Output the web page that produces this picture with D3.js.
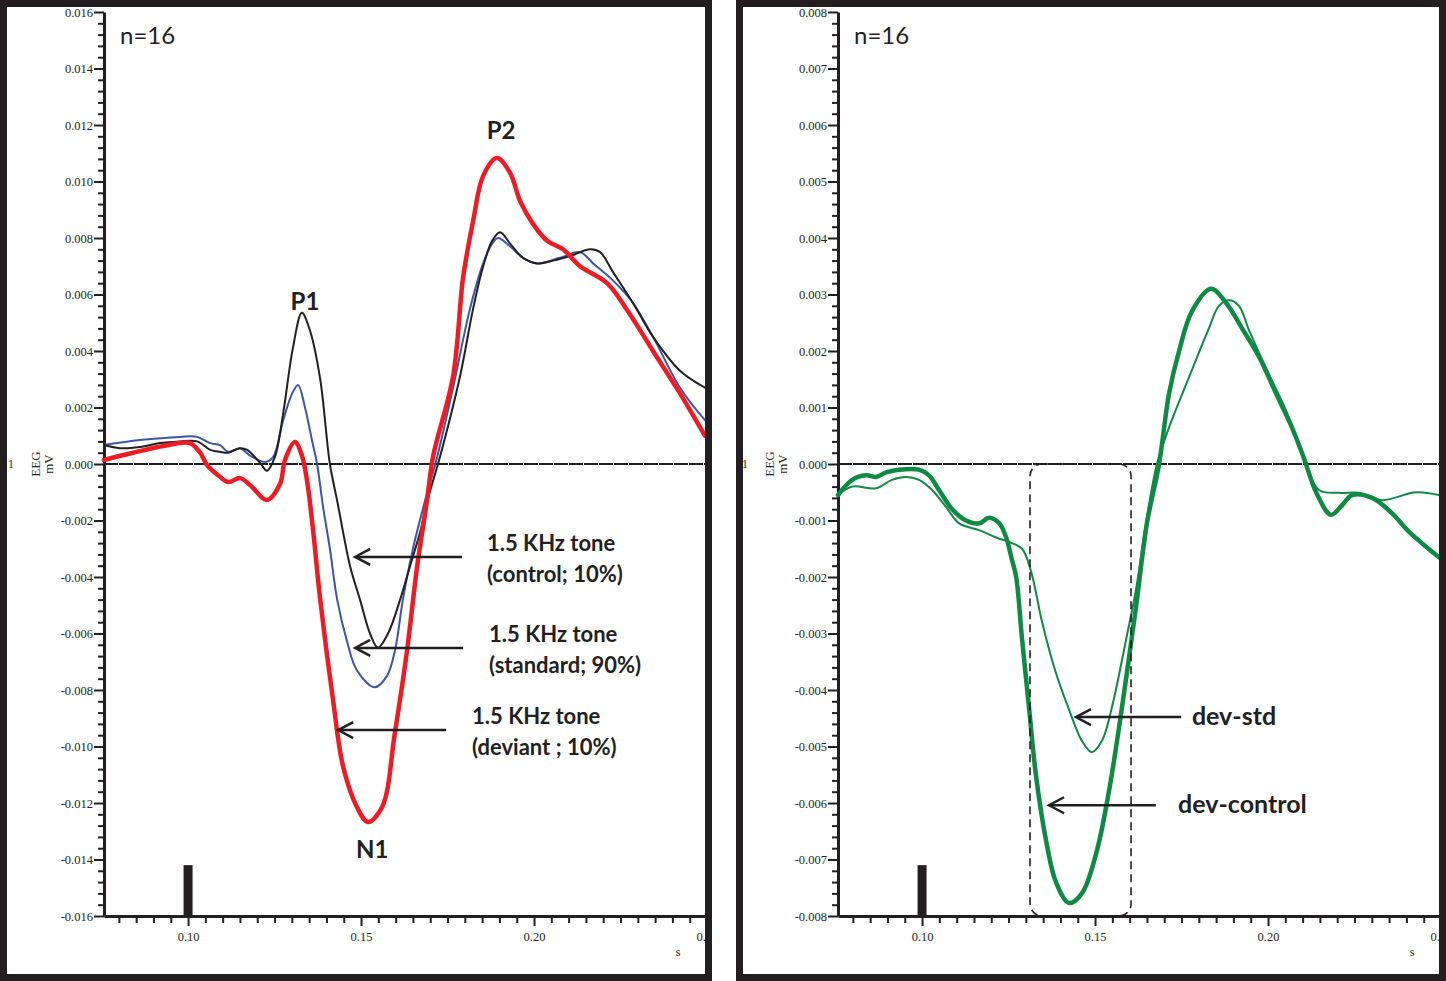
<!DOCTYPE html>
<html>
<head>
<meta charset="utf-8">
<script src="https://cdn.jsdelivr.net/npm/d3@7"></script>
<style>
  body { margin: 0; background: #fff; }
  svg { display: block; }
</style>
</head>
<body>
<script>
// ---- values (time in s, amplitude in mV) ----
const controlTone = [
  [0.0757, 0.00067], [0.0803, 0.00056], [0.0861, 0.0006], [0.0919, 0.00074], [0.0977, 0.0008],
  [0.1026, 0.0008], [0.1064, 0.0005], [0.1092, 0.00043], [0.1116, 0.0004], [0.1150, 0.00056],
  [0.1171, 0.0005], [0.1208, 0.00004], [0.1228, -0.00024], [0.1251, 0.00025], [0.1275, 0.0018],
  [0.1303, 0.0041], [0.1329, 0.00535], [0.1353, 0.0047], [0.1382, 0.0030], [0.1410, 0.0000],
  [0.1431, -0.0013], [0.1468, -0.0036], [0.1497, -0.0048], [0.1526, -0.0060], [0.1549, -0.0065],
  [0.1578, -0.0060], [0.1613, -0.0048], [0.1642, -0.0036], [0.1671, -0.0024], [0.1694, -0.0012],
  [0.1728, 0.00025], [0.1786, 0.0031], [0.1824, 0.0055], [0.1853, 0.0070], [0.1879, 0.0079],
  [0.1902, 0.0082], [0.1931, 0.0078], [0.1968, 0.0073], [0.2009, 0.0071], [0.2055, 0.0072],
  [0.2113, 0.0074], [0.2162, 0.0076], [0.2191, 0.0075], [0.2228, 0.0068], [0.2286, 0.0057],
  [0.2344, 0.0045], [0.2422, 0.0033], [0.2494, 0.0027]
];

const standardTone = [
  [0.0757, 0.00067], [0.0861, 0.00085], [0.0977, 0.00096], [0.1026, 0.00096], [0.1064, 0.00074],
  [0.1092, 0.00067], [0.1116, 0.00043], [0.1150, 0.00056], [0.1179, 0.0003], [0.1223, 0.00007],
  [0.1246, 0.00025], [0.1275, 0.00155], [0.1301, 0.0025], [0.1318, 0.0028], [0.1338, 0.0020],
  [0.1358, 0.00085], [0.1373, 0.0000], [0.1390, -0.0015], [0.1410, -0.0030], [0.1431, -0.0048],
  [0.1460, -0.0063], [0.1488, -0.0073], [0.1540, -0.0079], [0.1575, -0.0075], [0.1598, -0.0066],
  [0.1621, -0.0048], [0.1650, -0.0030], [0.1685, -0.0013], [0.1720, 0.00025], [0.1766, 0.0027],
  [0.1815, 0.0055], [0.1853, 0.0071], [0.1879, 0.0078], [0.1896, 0.0080], [0.1931, 0.0077],
  [0.1968, 0.0073], [0.2009, 0.0071], [0.2075, 0.0073], [0.2133, 0.0075], [0.2171, 0.0071],
  [0.2228, 0.0065], [0.2286, 0.0057], [0.2344, 0.0045], [0.2422, 0.0027], [0.2494, 0.00155]
];

const deviantTone = [
  [0.0757, 0.00014], [0.0841, 0.0004], [0.0977, 0.00074], [0.1006, 0.00074], [0.1035, 0.0004],
  [0.1055, -0.00004], [0.1087, -0.0004], [0.1116, -0.00064], [0.1150, -0.0005], [0.1179, -0.00074],
  [0.1228, -0.00127], [0.1266, -0.0007], [0.1280, 0.00014], [0.1309, 0.00078], [0.1329, 0.0003],
  [0.1344, -0.0006], [0.1361, -0.0023], [0.1382, -0.0048], [0.1419, -0.00835], [0.1448, -0.0107],
  [0.1488, -0.01214], [0.1520, -0.01267], [0.1561, -0.01214], [0.1598, -0.0095], [0.1633, -0.0066],
  [0.1662, -0.00364], [0.1691, -0.00127], [0.1708, 0.00025], [0.1766, 0.0031], [0.1795, 0.0066],
  [0.1824, 0.0086], [0.1853, 0.0102], [0.1893, 0.01083], [0.1931, 0.0103], [0.1960, 0.0093],
  [0.1997, 0.0085], [0.2038, 0.0079], [0.2084, 0.0076], [0.2133, 0.0070], [0.2211, 0.0064],
  [0.2269, 0.00545], [0.2344, 0.0040], [0.2422, 0.0025], [0.2494, 0.0010]
];

const devMinusControl = [
  [0.0757, -0.00055], [0.0798, -0.00028], [0.0838, -0.0002], [0.0867, -0.00023], [0.0896, -0.00015],
  [0.0934, -0.0001], [0.0991, -0.0001], [0.1020, -0.0002], [0.1049, -0.00046], [0.1087, -0.0008],
  [0.1127, -0.0010], [0.1165, -0.00105], [0.1194, -0.00095], [0.1223, -0.00105], [0.1243, -0.0013],
  [0.1260, -0.0017], [0.1272, -0.0020], [0.1289, -0.0031], [0.1309, -0.0043], [0.1329, -0.0055],
  [0.1358, -0.00665], [0.1387, -0.0074], [0.1425, -0.00777], [0.1462, -0.0076], [0.1503, -0.0069],
  [0.1540, -0.0058], [0.1578, -0.0043], [0.1619, -0.0025], [0.1650, -0.00105], [0.1685, 0.0000],
  [0.1714, 0.00125], [0.1743, 0.0020], [0.1780, 0.0027], [0.1835, 0.0031], [0.1879, 0.00285],
  [0.1925, 0.0024], [0.1974, 0.0019], [0.2023, 0.00125], [0.2069, 0.00065], [0.2104, 0.0001],
  [0.2139, -0.0005], [0.2182, -0.0009], [0.2214, -0.00073], [0.2243, -0.00055], [0.2301, -0.0006],
  [0.2358, -0.00087], [0.2408, -0.0012], [0.2494, -0.00165]
];

const devMinusStd = [
  [0.0757, -0.00055], [0.0798, -0.0004], [0.0867, -0.00043], [0.0913, -0.00028], [0.0954, -0.00023],
  [0.0991, -0.00028], [0.1029, -0.00046], [0.1069, -0.00076], [0.1107, -0.00105], [0.1165, -0.00117],
  [0.1214, -0.0013], [0.1251, -0.00138], [0.1289, -0.0015], [0.1315, -0.0019], [0.1347, -0.0028],
  [0.1387, -0.0037], [0.1425, -0.00435], [0.1462, -0.0049], [0.1491, -0.0051], [0.1520, -0.0049],
  [0.1549, -0.0043], [0.1590, -0.0031], [0.1619, -0.0022], [0.1647, -0.00105], [0.1679, 0.0000],
  [0.1714, 0.00065], [0.1772, 0.00154], [0.1829, 0.0024], [0.1858, 0.0028], [0.1887, 0.0029],
  [0.1916, 0.0028], [0.1945, 0.00237], [0.1994, 0.0017], [0.2052, 0.00095], [0.2104, 0.0001],
  [0.2147, -0.00046], [0.2205, -0.00051], [0.2263, -0.00051], [0.2329, -0.00064], [0.2428, -0.0005],
  [0.2494, -0.00055]
];

// axis ticks
const timeDomain = [0.0757, 0.25];
const timeMajorTicks = [0.10, 0.15, 0.20, 0.25];
const timeMinorTicks = d3.range(16, 51).filter(i => i % 10 !== 0).map(i => i * 0.005);
const leftMajorTicks = d3.range(-8, 9).map(i => i * 0.002);
const leftMinorTicks = d3.range(-40, 41).filter(i => i % 5 !== 0).map(i => i * 0.0004);
const rightMajorTicks = d3.range(-8, 9).map(i => i * 0.001);
const rightMinorTicks = d3.range(-40, 41).filter(i => i % 5 !== 0).map(i => i * 0.0002);

// annotations in data units
const stimulusTime = 0.10;
const leftPeaks = [
  { label: "P1", t: 0.1338, v: 0.00545 },
  { label: "P2", t: 0.1905, v: 0.0115 },
  { label: "N1", t: 0.1532, v: -0.01395 }
];
const leftArrows = [
  { tip: [0.1483, -0.00329], tail: 0.1792, textT: 0.1864, lines: ["1.5 KHz tone", "(control; 10%)"] },
  { tip: [0.1483, -0.00651], tail: 0.1795, textT: 0.1870, lines: ["1.5 KHz tone", "(standard; 90%)"] },
  { tip: [0.1434, -0.00942], tail: 0.1746, textT: 0.1821, lines: ["1.5 KHz tone", "(deviant ; 10%)"] }
];
const rightArrows = [
  { tip: [0.1445, -0.00448], tail: 0.1749, textT: 0.1780, lines: ["dev-std"] },
  { tip: [0.1367, -0.00604], tail: 0.1676, textT: 0.1740, lines: ["dev-control"] }
];
const windowBox = { t0: 0.1312, t1: 0.1604, v0: 0.0000, v1: -0.0080 };

const INK = "#231f20";
const W = 1446, H = 981;

const svg = d3.select("body").append("svg")
  .attr("width", W)
  .attr("height", H);

const fmt3 = d => (Math.abs(d) < 1e-9 ? 0 : d).toFixed(3);

function drawPanel(p) {
  const x = d3.scaleLinear().domain(timeDomain).range([p.x0, p.x0 + 603]);
  const y = d3.scaleLinear().domain(p.yDomain).range([916, 12]);
  const g = svg.append("g");

  // zero line (solid with tiny breaks, like the source export)
  g.append("line")
    .attr("x1", x.range()[0]).attr("x2", x.range()[1])
    .attr("y1", y(0)).attr("y2", y(0))
    .attr("stroke", INK).attr("stroke-width", 1.8)
    .attr("stroke-dasharray", "14,1");

  // stimulus marker
  g.append("rect")
    .attr("x", x(stimulusTime) - 4.5)
    .attr("y", y(p.stimTop))
    .attr("width", 9)
    .attr("height", y(p.yDomain[0]) - y(p.stimTop))
    .attr("fill", INK);

  // minor ticks
  const yMinor = g.append("g").attr("transform", `translate(${p.x0},0)`)
    .call(d3.axisLeft(y).tickValues(p.minor).tickSize(6).tickFormat(""));
  const xMinor = g.append("g").attr("transform", "translate(0,916)")
    .call(d3.axisBottom(x).tickValues(timeMinorTicks).tickSize(7).tickFormat(""));

  // major ticks + labels
  const yAxis = g.append("g").attr("transform", `translate(${p.x0},0)`)
    .call(d3.axisLeft(y).tickValues(p.major).tickSize(10).tickSizeOuter(0).tickPadding(1).tickFormat(fmt3));
  const xAxis = g.append("g").attr("transform", "translate(0,916)")
    .call(d3.axisBottom(x).tickValues(timeMajorTicks).tickSize(10).tickSizeOuter(0).tickPadding(6).tickFormat(d => d.toFixed(2)));

  [yMinor, xMinor].forEach(a => a.select(".domain").remove());
  [yMinor, xMinor, yAxis, xAxis].forEach(a => {
    a.selectAll(".tick line").attr("stroke", INK).attr("stroke-width", 2);
  });
  [yAxis, xAxis].forEach(a => {
    a.select(".domain").attr("stroke", INK).attr("stroke-width", 3);
    a.selectAll(".tick text")
      .attr("fill", INK)
      .style("font-family", "'Liberation Serif', 'DejaVu Serif', serif")
      .style("font-size", "12.5px");
  });

  // axis captions
  const serif = "'Liberation Serif', 'DejaVu Serif', serif";
  g.append("text").attr("x", p.x0 - 96).attr("y", y(0) + 4)
    .style("font-family", serif).style("font-size", "12px").attr("fill", INK).text("1");
  g.append("text").attr("transform", `translate(${p.x0 - 64},${y(0)}) rotate(-90)`)
    .attr("text-anchor", "middle")
    .style("font-family", serif).style("font-size", "13px").attr("fill", INK).text("EEG");
  g.append("text").attr("transform", `translate(${p.x0 - 51},${y(0)}) rotate(-90)`)
    .attr("text-anchor", "middle")
    .style("font-family", serif).style("font-size", "13px").attr("fill", INK).text("mV");
  g.append("text").attr("x", p.x0 + 574).attr("y", 956)
    .attr("text-anchor", "middle")
    .style("font-family", serif).style("font-size", "12px").attr("fill", INK).text("s");

  // waveforms
  const line = d3.line()
    .x(d => x(d[0]))
    .y(d => y(d[1]))
    .curve(d3.curveCatmullRom.alpha(0.5));

  g.append("g").selectAll("path")
    .data(p.series)
    .join("path")
    .attr("d", s => line(s.values))
    .attr("fill", "none")
    .attr("stroke", s => s.color)
    .attr("stroke-width", s => s.width)
    .attr("stroke-linejoin", "round")
    .attr("stroke-linecap", "round");

  // n label
  g.append("text").attr("x", p.x0 + 16).attr("y", 44)
    .style("font-family", "Lato, 'Open Sans', sans-serif").style("font-size", "24px")
    .attr("fill", INK).text("n=16");

  // arrows with labels
  const bold = "Lato, 'Open Sans', sans-serif";
  p.arrows.forEach(a => {
    const tx = x(a.tip[0]), ty = y(a.tip[1]);
    g.append("line")
      .attr("x1", x(a.tail)).attr("x2", tx + 1)
      .attr("y1", ty).attr("y2", ty)
      .attr("stroke", INK).attr("stroke-width", 2.5);
    g.append("path")
      .attr("d", `M${tx + 15},${ty - 8}L${tx},${ty}L${tx + 15},${ty + 8}`)
      .attr("fill", "none").attr("stroke", INK).attr("stroke-width", 2.5);
    const t = g.append("text")
      .attr("x", x(a.textT))
      .attr("y", ty + (a.lines.length > 1 ? -6 : 8))
      .style("font-family", bold).style("font-weight", "bold")
      .style("font-size", p.arrowFont).attr("fill", INK);
    a.lines.forEach((s, i) => {
      t.append("tspan").attr("x", x(a.textT)).attr("dy", i === 0 ? 0 : 31).text(s);
    });
  });

  // peak labels
  g.selectAll(".peak")
    .data(p.peaks)
    .join("text")
    .attr("x", d => x(d.t)).attr("y", d => y(d.v))
    .attr("text-anchor", "middle")
    .style("font-family", bold).style("font-weight", "bold").style("font-size", "24px")
    .attr("fill", INK).text(d => d.label);

  if (p.box) {
    const b = p.box;
    g.append("rect")
      .attr("x", x(b.t0)).attr("y", y(b.v0))
      .attr("width", x(b.t1) - x(b.t0))
      .attr("height", y(b.v1) - y(b.v0))
      .attr("rx", 12).attr("ry", 12)
      .attr("fill", "none").attr("stroke", INK)
      .attr("stroke-width", 1.6).attr("stroke-dasharray", "8,5");
  }

  // frame on top (crops the last x tick label like the original)
  svg.append("rect")
    .attr("x", p.frameX + p.frameW).attr("y", 0)
    .attr("width", 24).attr("height", H).attr("fill", "#fff");
  svg.append("rect")
    .attr("x", p.frameX + 3.5).attr("y", 3.5)
    .attr("width", p.frameW - 7).attr("height", H - 7)
    .attr("fill", "none").attr("stroke", INK).attr("stroke-width", 7);
}

drawPanel({
  x0: 104, frameX: 0, frameW: 712,
  yDomain: [-0.016, 0.016], major: leftMajorTicks, minor: leftMinorTicks,
  stimTop: -0.0142,
  series: [
    { values: standardTone, color: "#3b56a6", width: 2 },
    { values: controlTone, color: INK, width: 2 },
    { values: deviantTone, color: "#ed1c24", width: 4.5 }
  ],
  arrows: leftArrows, arrowFont: "22px", peaks: leftPeaks, box: null
});

drawPanel({
  x0: 838, frameX: 736, frameW: 710,
  yDomain: [-0.008, 0.008], major: rightMajorTicks, minor: rightMinorTicks,
  stimTop: -0.0071,
  series: [
    { values: devMinusStd, color: "#0f8a42", width: 2 },
    { values: devMinusControl, color: "#0f8a42", width: 4.5 }
  ],
  arrows: rightArrows, arrowFont: "25px", peaks: [], box: windowBox
});
</script>
</body>
</html>
